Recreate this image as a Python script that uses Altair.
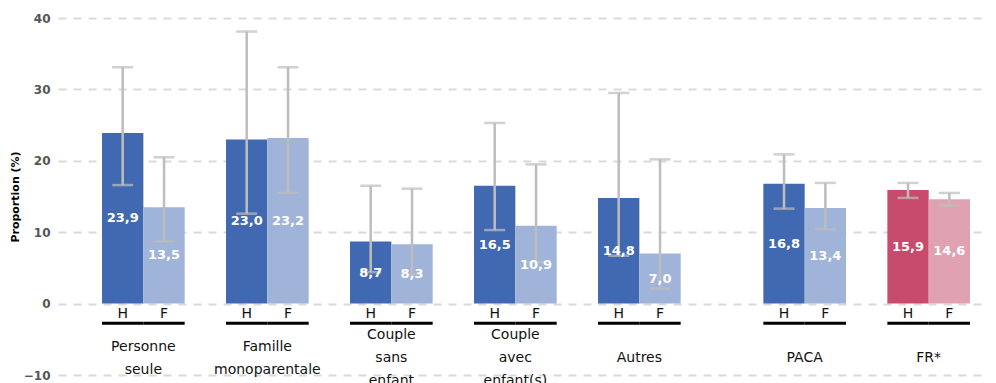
import altair as alt
import pandas as pd

groups = ["Personne seule", "Famille monoparentale", "Couple sans enfant",
          "Couple avec enfant(s)", "Autres", "PACA", "FR*"]
group_labels = ["Personne\nseule", "Famille\nmonoparentale", "Couple\nsans\nenfant",
                "Couple\navec\nenfant(s)", "Autres", "PACA", "FR*"]
sexes = ["H", "F"]
h_values = [23.9, 23.0, 8.7, 16.5, 14.8, 16.8, 15.9]
f_values = [13.5, 23.2, 8.3, 10.9, 7.0, 13.4, 14.6]
h_low = [16.6, 12.6, 4.4, 10.3, 6.7, 13.3, 14.8]
h_high = [33.1, 38.1, 16.5, 25.3, 29.5, 20.9, 16.9]
f_low = [8.7, 15.5, 4.1, 5.8, 2.1, 10.4, 13.7]
f_high = [20.5, 33.1, 16.1, 19.5, 20.2, 16.9, 15.5]
y_ticks = [-10, 0, 10, 20, 30, 40]

# slot order on the x band scale (spacers separate groups)
spacer_after = {"Personne seule": 1, "Famille monoparentale": 1, "Couple sans enfant": 1,
                "Couple avec enfant(s)": 1, "Autres": 2, "PACA": 1, "FR*": 0}
domain = []
gap_i = 0
for g in groups:
    domain += [f"{g}|H", f"{g}|F"]
    for _ in range(spacer_after[g]):
        gap_i += 1
        domain.append(" " * gap_i)

rows = []
for i, g in enumerate(groups):
    for s, v, lo, hi in [("H", h_values[i], h_low[i], h_high[i]),
                         ("F", f_values[i], f_low[i], f_high[i])]:
        tone = s + ("_fr" if g == "FR*" else "")
        rows.append(dict(group=g, sex=s, key=f"{g}|{s}", value=v, lo=lo, hi=hi,
                         tone=tone, txt=f"{v:.1f}".replace(".", ",")))
df = pd.DataFrame(rows)
gdf = pd.DataFrame({"hkey": [f"{g}|H" for g in groups], "label": group_labels})

W, H = 930, 357
xscale = alt.Scale(domain=domain, paddingInner=0, paddingOuter=0.75, align=0.71)
yscale = alt.Scale(domain=[-10, 40], nice=False)
px_per_unit = H / 50.0
yaxis = alt.Axis(values=y_ticks, title="Proportion (%)")
color = alt.Color("tone:N", legend=None,
                  scale=alt.Scale(domain=["H", "F", "H_fr", "F_fr"],
                                  range=["#4169b1", "#a0b3d8", "#c84b6e", "#e0a2b0"]))

base = alt.Chart(df)
X = alt.X("key:N", scale=xscale, axis=None, sort=domain)

bars = base.mark_bar().encode(
    x=X, y=alt.Y("value:Q", scale=yscale, axis=yaxis), color=color)
err = base.mark_rule(color="#bdbdbd", strokeWidth=2.5).encode(
    x=X, y=alt.Y("lo:Q", scale=yscale, axis=yaxis), y2="hi:Q")
cap_lo = base.mark_tick(color="#bdbdbd", size=21, thickness=2.5).encode(
    x=X, y=alt.Y("lo:Q", scale=yscale, axis=yaxis))
cap_hi = base.mark_tick(color="#bdbdbd", size=21, thickness=2.5).encode(
    x=X, y=alt.Y("hi:Q", scale=yscale, axis=yaxis))
vals = base.transform_calculate(mid="datum.value / 2").mark_text(
    color="white", fontWeight="bold", fontSize=13, baseline="middle").encode(
    x=X, y=alt.Y("mid:Q", scale=yscale, axis=yaxis), text="txt:N")
sexlab = base.mark_text(color="#111111", fontSize=14, baseline="middle").encode(
    x=X, y=alt.datum(-1.5, axis=yaxis), text="sex:N")
underline = base.mark_bar(color="#000000").encode(
    x=X, y=alt.datum(-2.55, axis=yaxis), y2=alt.datum(-2.97))
glab = alt.Chart(gdf).transform_calculate(
    ly=f"-7.62 + (split(datum.label, '\\n').length - 1) * 11.5 / {px_per_unit}"
).mark_text(color="#111111", fontSize=14, baseline="middle",
            lineBreak="\n", lineHeight=23).encode(
    x=alt.X("hkey:N", scale=xscale, axis=None, bandPosition=1, sort=domain),
    y=alt.Y("ly:Q", scale=yscale, axis=yaxis), text="label:N")

chart = alt.layer(bars, err, cap_lo, cap_hi, vals, sexlab, underline, glab).properties(
    width=W, height=H,
    autosize=alt.AutoSizeParams(type="none"),
    padding={"left": 50, "top": 10, "right": 0, "bottom": 10},
).configure(font="DejaVu Sans").configure_view(stroke=None).configure_axisY(
    grid=True, gridColor="#d9d9d9", gridWidth=2, gridDash=[8, 7],
    domain=False, ticks=False, tickSize=0,
    labelFontWeight="bold", labelColor="#555555", labelFontSize=12, labelPadding=8,
    titleFontSize=11, titleFontWeight="bold", titleColor="#000000", titlePadding=3)

chart.save("out.html", embed_options={"renderer": "svg", "actions": False})
